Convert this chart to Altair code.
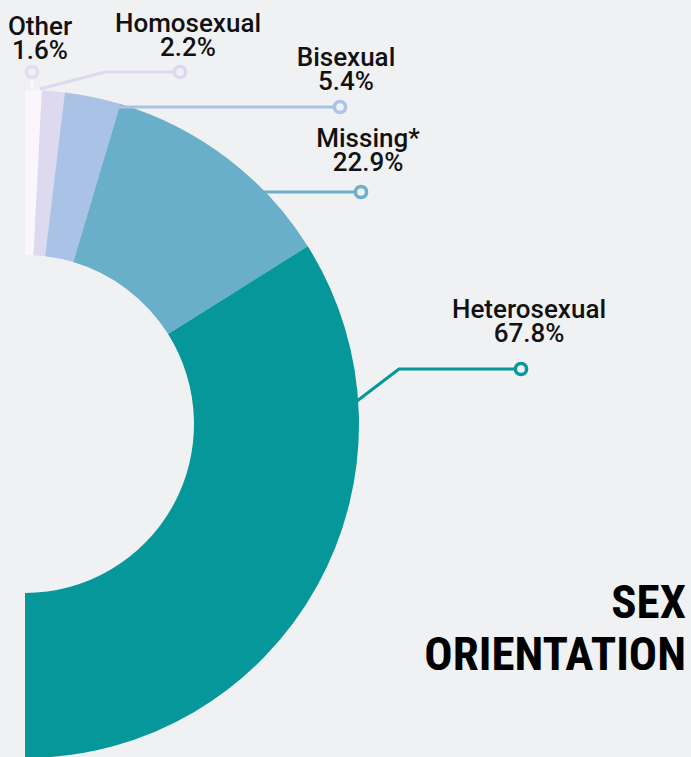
import math
import altair as alt
import pandas as pd

# ---- data ----
categories = ["Other", "Homosexual", "Bisexual", "Missing*", "Heterosexual"]
percents = [1.6, 2.2, 5.4, 22.9, 67.8]
pct_labels = [f"{p}%" for p in percents]

# ---- styles ----
slice_colors = ["#FBF6FC", "#DDD9EF", "#AAC2E5", "#69AFCA", "#06979A"]
line_colors = ["#E2DEF2", "#DCD8F0", "#ADC3E8", "#6AAFCB", "#08999C"]
BG = "#F0F1F3"

# ---- layout (pixels) ----
W, H = 691, 757
CX, CY = 25, 424
R_OUT, R_IN = 334, 169
label_x = [40, 188, 346, 368, 529]
name_base = [35, 32, 66, 147, 318]
LINE_GAP = 24
leader_paths = [
    [(32, 89), (32, 72)],
    [(40, 89), (105, 72), (180, 72)],
    [(95, 107), (340, 107)],
    [(262, 192), (361, 192)],
    [(357, 401), (399, 369), (521, 369)],
]

total = sum(percents)
df = pd.DataFrame({"cat": categories, "pct": percents, "idx": range(len(categories))})

line_rows = []
end_rows = []
for i, (c, path) in enumerate(zip(categories, leader_paths)):
    for j, (px, py) in enumerate(path):
        line_rows.append({"cat": c, "seq": j, "px": px, "py": py})
    end_rows.append({"cat": c, "px": path[-1][0], "py": path[-1][1]})
lines_df = pd.DataFrame(line_rows)
ends_df = pd.DataFrame(end_rows)

lab_df = pd.DataFrame({
    "cat": categories,
    "lab": pct_labels,
    "lx": label_x,
    "ny": name_base,
    "py": [b + LINE_GAP for b in name_base],
})

slice_scale = alt.Scale(domain=categories, range=slice_colors)
line_scale = alt.Scale(domain=categories, range=line_colors)

arcs = alt.Chart(df).mark_arc(innerRadius=R_IN, outerRadius=R_OUT).encode(
    theta=alt.Theta("pct:Q", stack=True,
                    scale=alt.Scale(domain=[0, total], range=[0, math.pi])),
    color=alt.Color("cat:N", scale=slice_scale, legend=None),
    order=alt.Order("idx:Q"),
    x=alt.value(CX),
    y=alt.value(CY),
)

lines = alt.Chart(lines_df).mark_line(strokeWidth=3).encode(
    x=alt.X("px:Q", scale=None, axis=None),
    y=alt.Y("py:Q", scale=None, axis=None),
    color=alt.Color("cat:N", scale=line_scale, legend=None),
    detail="cat:N",
    order=alt.Order("seq:Q"),
)

ends = alt.Chart(ends_df).mark_point(shape="circle", size=125, strokeWidth=3.5,
                                     fill=BG, fillOpacity=1, opacity=1).encode(
    x=alt.X("px:Q", scale=None, axis=None),
    y=alt.Y("py:Q", scale=None, axis=None),
    stroke=alt.Color("cat:N", scale=line_scale, legend=None),
)

text_style = dict(font="Roboto", fontSize=26, fontWeight=500, color="#111111",
                  align="center", baseline="alphabetic")
names = alt.Chart(lab_df).mark_text(**text_style).encode(
    x=alt.X("lx:Q", scale=None, axis=None),
    y=alt.Y("ny:Q", scale=None, axis=None),
    text="cat:N",
)
pcts = alt.Chart(lab_df).mark_text(**text_style).encode(
    x=alt.X("lx:Q", scale=None, axis=None),
    y=alt.Y("py:Q", scale=None, axis=None),
    text="lab:N",
)

title_df = pd.DataFrame({"t": ["SEX", "ORIENTATION"], "ty": [618, 670]})
title = alt.Chart(title_df).mark_text(
    font="Roboto Condensed, Noto Sans Condensed, Liberation Sans Narrow, Roboto",
    fontSize=47, fontWeight="bold", color="#000000", align="right",
    baseline="alphabetic",
).encode(
    x=alt.value(686),
    y=alt.Y("ty:Q", scale=None, axis=None),
    text="t:N",
)

chart = alt.layer(arcs, lines, ends, names, pcts, title).properties(
    width=W, height=H, padding=0,
    autosize=alt.AutoSizeParams(type="none"),
    background=BG,
).configure_view(stroke=None)

chart.save("out.html", embed_options={"renderer": "svg", "actions": False})
